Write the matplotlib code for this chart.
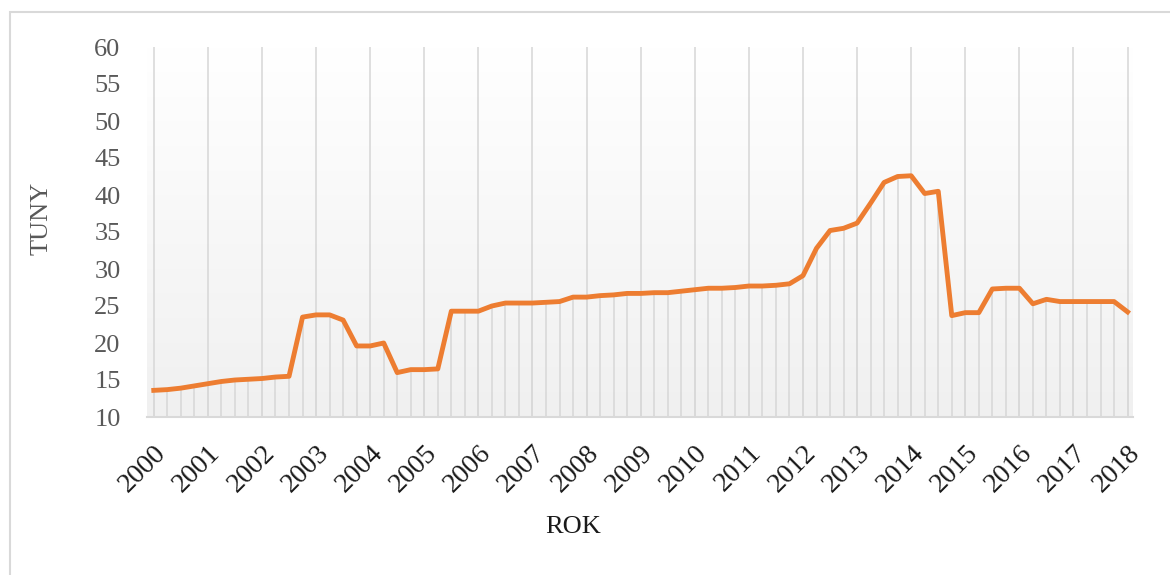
import matplotlib
matplotlib.use("Agg")

import matplotlib.pyplot as plt
import numpy as np
from matplotlib.patches import Rectangle
from matplotlib.transforms import ScaledTranslation


# quarterly values, 2000 Q1 .. 2018 Q1 (73 points)
years = [str(y) for y in range(2000, 2019)]
values = [
    13.6, 13.7, 13.9, 14.2, 14.5, 14.8, 15.0, 15.1, 15.2, 15.4, 15.5,
    23.5, 23.8, 23.8, 23.1, 19.6, 19.6, 20.0, 16.0, 16.4, 16.4, 16.5,
    24.3, 24.3, 24.3, 25.0, 25.4, 25.4, 25.4, 25.5, 25.6, 26.2, 26.2,
    26.4, 26.5, 26.7, 26.7, 26.8, 26.8, 27.0, 27.2, 27.4, 27.4, 27.5,
    27.7, 27.7, 27.8, 28.0, 29.1, 32.8, 35.2, 35.5, 36.2, 38.9, 41.7,
    42.5, 42.6, 40.2, 40.5, 23.7, 24.1, 24.1, 27.3, 27.4, 27.4, 25.3,
    25.9, 25.6, 25.6, 25.6, 25.6, 25.6, 24.2,
]
y_ticks = [10, 15, 20, 25, 30, 35, 40, 45, 50, 55, 60]

GRID = "#d9d9d9"
ORANGE = "#ed7d31"
GRAY_TEXT = "#595959"

plt.rcParams.update({
    "font.family": ["Liberation Serif", "DejaVu Serif"],
    "font.size": 19,
})

fig = plt.figure(figsize=(11.7, 5.75), dpi=100)
ax = fig.add_axes([147 / 1170, 1 - 417 / 575, 986 / 1170, 370 / 575])

x = np.arange(len(values))
ax.set_xlim(-0.5, 72.4)
ax.set_ylim(10, 60)

# gradient plot background
grad = np.linspace(0, 1, 256).reshape(-1, 1)
ax.imshow(grad, extent=[-0.5, 72.4, 10, 60], origin="upper", aspect="auto",
          cmap=matplotlib.colors.LinearSegmentedColormap.from_list("bg", ["#ffffff", "#f0f0f0"]),
          zorder=0)

# year gridlines and drop lines
for i in range(0, len(values), 4):
    ax.axvline(i, color=GRID, lw=1.2, zorder=1)
ax.vlines(x, 10, values, color=GRID, lw=1.2, zorder=1)

ax.plot(x, values, color=ORANGE, lw=3.5, solid_joinstyle="round", zorder=3)

for side in ["top", "right", "left"]:
    ax.spines[side].set_visible(False)
ax.spines["bottom"].set_color(GRID)
ax.spines["bottom"].set_linewidth(1.5)

ax.set_yticks(y_ticks)
ax.set_xticks(x[::4])
ax.set_xticklabels(years)
ax.tick_params(axis="y", length=0, pad=19, colors=GRAY_TEXT, labelsize=19)
ax.tick_params(axis="x", length=0, pad=17, labelsize=20, labelcolor="#1a1a1a")
for lab in ax.get_xticklabels():
    lab.set_rotation(45)
    lab.set_ha("right")
    lab.set_va("top")
    lab.set_rotation_mode("anchor")
    lab.set_transform(lab.get_transform() + ScaledTranslation(0.0, 0, fig.dpi_scale_trans))

fig.text(42 / 1170, 1 - 218 / 575, "TUNY", rotation=90, ha="center", va="center",
         color=GRAY_TEXT, fontsize=19)
fig.text(573 / 1170, 1 - 527 / 575, "ROK", ha="center", va="center",
         color="#1a1a1a", fontsize=19)

fig.patches.append(Rectangle((10 / 1170, -0.05), 1.1, 1 - 12 / 575 + 0.05,
                             transform=fig.transFigure, fill=False,
                             edgecolor=GRID, lw=1.5))

fig.savefig("out.png", dpi=100, facecolor="white")
